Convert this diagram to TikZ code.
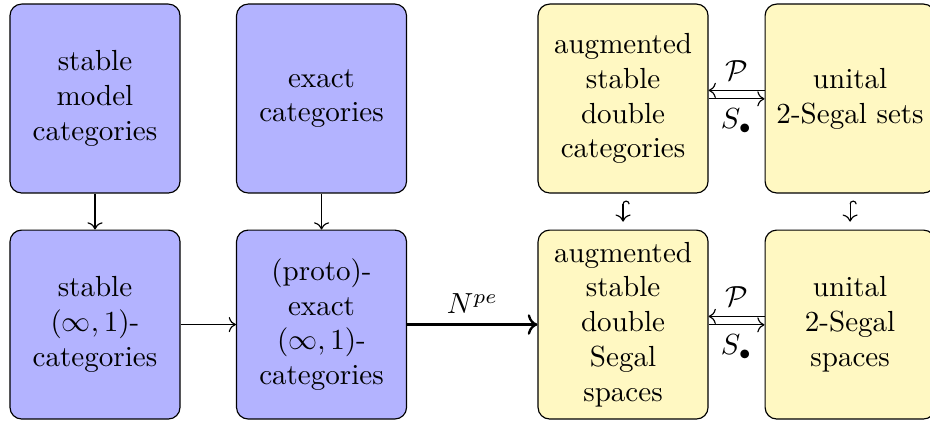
\documentclass[tikz,border=0pt]{standalone}
\usetikzlibrary{arrows.meta}
\definecolor{boxblue}{RGB}{179,179,255}
\definecolor{boxyellow}{RGB}{255,248,194}
\tikzset{
  box/.style={draw=black, rounded corners=4pt, minimum width=58.5pt, minimum height=65pt,
    align=center, inner sep=0pt, text width=56pt},
  bluebox/.style={box, fill=boxblue},
  yellowbox/.style={box, fill=boxyellow},
  arr/.style={->},
  thickarr/.style={->, thick},
  hookarr/.style={{Hooks[right]}->, shorten <=2.4pt, shorten >=2.7pt},
  lbl/.style={inner sep=3.33pt},
}
\begin{document}
\begin{tikzpicture}
\useasboundingbox (0,0) rectangle (320pt,-144.9pt);
% top row
\node[bluebox] (a1) at (32.69pt,-33.9pt) {stable\\model\\categories};
\node[bluebox] (a2) at (110.63pt,-33.9pt) {exact\\categories};
\node[yellowbox] (a3) at (214.38pt,-33.9pt) {augmented\\stable\\double\\categories};
\node[yellowbox] (a4) at (292.5pt,-33.9pt) {unital\\2-Segal sets};
% bottom row
\node[bluebox] (b1) at (32.69pt,-111.67pt) {stable\\$(\infty,1)$-\\categories};
\node[bluebox] (b2) at (110.63pt,-111.67pt) {(proto)-\\exact\\$(\infty,1)$-\\categories};
\node[yellowbox] (b3) at (214.38pt,-111.67pt) {augmented\\stable\\double\\Segal\\spaces};
\node[yellowbox] (b4) at (292.5pt,-111.67pt) {unital\\2-Segal\\spaces};
% arrows
\draw[arr] (a1) -- (b1);
\draw[arr] (a2) -- (b2);
\draw[arr] (b1) -- (b2);
\draw[thickarr] (b2) -- node[lbl, above] {$N^{pe}$} (b3);
\draw[hookarr] (a3) -- (b3);
\draw[hookarr] (a4) -- (b4);
\draw[arr] ([yshift=2.8pt]a4.west) -- node[lbl, above] {$\mathcal{P}$} ([yshift=2.8pt]a3.east);
\draw[arr] ([yshift=-0.1pt]a3.east) -- node[lbl, below] {$S_\bullet$} ([yshift=-0.1pt]a4.west);
\draw[arr] ([yshift=2.8pt]b4.west) -- node[lbl, above] {$\mathcal{P}$} ([yshift=2.8pt]b3.east);
\draw[arr] ([yshift=-0.1pt]b3.east) -- node[lbl, below] {$S_\bullet$} ([yshift=-0.1pt]b4.west);
\end{tikzpicture}
\end{document}
